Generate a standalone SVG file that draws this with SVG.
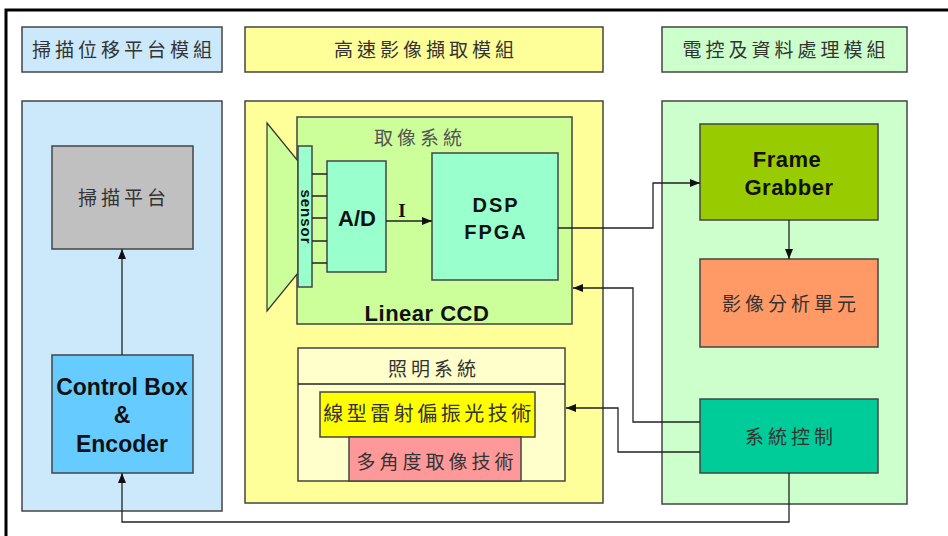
<svg xmlns="http://www.w3.org/2000/svg" width="948" height="536" viewBox="0 0 948 536">
<defs>
<marker id="ah" markerWidth="10" markerHeight="8" refX="10" refY="4" orient="auto" markerUnits="userSpaceOnUse">
<path d="M0,0 L10,4 L0,8 Z" fill="#111"/>
</marker>
<style>
.bx{stroke:#444;stroke-width:1.5}
.cjk{font-family:"Noto Sans CJK TC","Noto Sans CJK SC",sans-serif;font-size:19px;fill:#333;letter-spacing:4px;text-anchor:middle}
.en{font-family:"Liberation Sans",Arial,sans-serif;font-weight:bold;font-size:22px;fill:#111;text-anchor:middle}
.ln{fill:none;stroke:#222;stroke-width:1.3}
</style>
</defs>
<rect width="948" height="536" fill="#fff"/>
<path d="M948,10 L6,10 L6,536" fill="none" stroke="#000" stroke-width="3"/>

<g id="hdr-scan"><rect class="bx" x="22" y="27" width="200" height="45" fill="#cce9fc"/><text class="cjk" x="124" y="57">掃描位移平台模組</text></g>
<g id="hdr-image"><rect class="bx" x="245" y="27" width="358" height="45" fill="#ffff99"/><text class="cjk" x="426" y="57">高速影像擷取模組</text></g>
<g id="hdr-ctrl"><rect class="bx" x="662" y="27" width="245" height="45" fill="#ccffcc"/><text class="cjk" x="786" y="57">電控及資料處理模組</text></g>

<g id="panel-scan"><rect class="bx" x="22" y="101" width="200" height="410" fill="#cce9fc"/></g>
<g id="panel-image"><rect class="bx" x="245" y="101" width="358" height="402" fill="#ffff99"/></g>
<g id="panel-ctrl"><rect class="bx" x="662" y="101" width="245" height="403" fill="#ccffcc"/></g>

<g id="scan-platform"><rect class="bx" x="52" y="146" width="141" height="103" fill="#c0c0c0"/><text class="cjk" x="124" y="205">掃描平台</text></g>
<g id="control-box"><rect class="bx" x="52" y="355" width="141" height="118" fill="#66ccff"/>
<text class="en" x="122" y="395" style="font-size:23px">Control Box</text><text class="en" x="122" y="423" style="font-size:23px">&amp;</text><text class="en" x="122" y="452" style="font-size:23px">Encoder</text></g>

<g id="capture-system"><rect class="bx" x="297" y="117" width="275" height="207" fill="#ccff99"/>
<text class="cjk" x="420" y="145" style="fill:#555">取像系統</text>
<text class="en" x="427" y="321" style="letter-spacing:0.5px">Linear CCD</text></g>
<g id="lens"><polygon points="267,123 298,161 298,273 267,311" fill="#ccff99" stroke="#333" stroke-width="1.2"/></g>
<g id="sensor"><rect class="bx" x="298" y="146" width="14" height="141" fill="#99ffcc"/>
<text transform="translate(301,217) rotate(90)" font-family="Liberation Sans,Arial,sans-serif" font-weight="bold" font-size="15" fill="#111" text-anchor="middle" letter-spacing="1">sensor</text></g>
<g id="ad"><rect class="bx" x="327" y="161" width="59" height="111" fill="#99ffcc"/><text class="en" x="357" y="226">A/D</text></g>
<g id="dsp"><rect class="bx" x="432" y="153" width="126" height="127" fill="#99ffcc"/>
<text class="en" x="496" y="212" style="font-size:20px;letter-spacing:2px">DSP</text><text class="en" x="496" y="239" style="font-size:20px;letter-spacing:2px">FPGA</text></g>

<g id="lighting-system"><rect class="bx" x="298" y="348" width="267" height="133" fill="#ffffcc"/><line x1="298" y1="384" x2="565" y2="384" stroke="#222" stroke-width="1.5"/>
<text class="cjk" x="434" y="376">照明系統</text></g>
<g id="laser"><rect class="bx" x="320" y="392" width="215" height="45" fill="#ffff00"/><text class="cjk" x="429" y="421" style="font-size:20px;letter-spacing:3.5px">線型雷射偏振光技術</text></g>
<g id="multi-angle"><rect class="bx" x="349" y="437" width="172" height="44" fill="#ff9999"/><text class="cjk" x="437" y="469">多角度取像技術</text></g>

<g id="frame-grabber"><rect class="bx" x="700" y="124" width="178" height="96" fill="#99cc00"/>
<text class="en" x="787" y="167" style="letter-spacing:0.5px">Frame</text><text class="en" x="789" y="195" style="letter-spacing:0.5px">Grabber</text></g>
<g id="image-analysis"><rect class="bx" x="700" y="259" width="178" height="88" fill="#ff9966"/><text class="cjk" x="791" y="311">影像分析單元</text></g>
<g id="sys-control"><rect class="bx" x="700" y="399" width="178" height="74" fill="#00cc99"/><text class="cjk" x="791" y="444">系統控制</text></g>

<g id="connectors">
<path class="ln" d="M312,174 H327 M312,196 H327 M312,218 H327 M312,241 H327 M312,263 H327"/>
<path class="ln" d="M386,221 H432" marker-end="url(#ah)"/>
<text x="402" y="217" font-family="Liberation Serif,serif" font-weight="bold" font-size="19" fill="#111" text-anchor="middle">I</text>
<path class="ln" d="M558,228 H653 V183 H700" marker-end="url(#ah)"/>
<path class="ln" d="M789,220 V259" marker-end="url(#ah)"/>
<path class="ln" d="M700,422 H633 V288 H573" marker-end="url(#ah)"/>
<path class="ln" d="M700,452 H618 V408 H566" marker-end="url(#ah)"/>
<path class="ln" d="M122,355 V249" marker-end="url(#ah)"/>
<path class="ln" d="M789,473 V522 H122 V473" marker-end="url(#ah)"/>
</g>
</svg>
